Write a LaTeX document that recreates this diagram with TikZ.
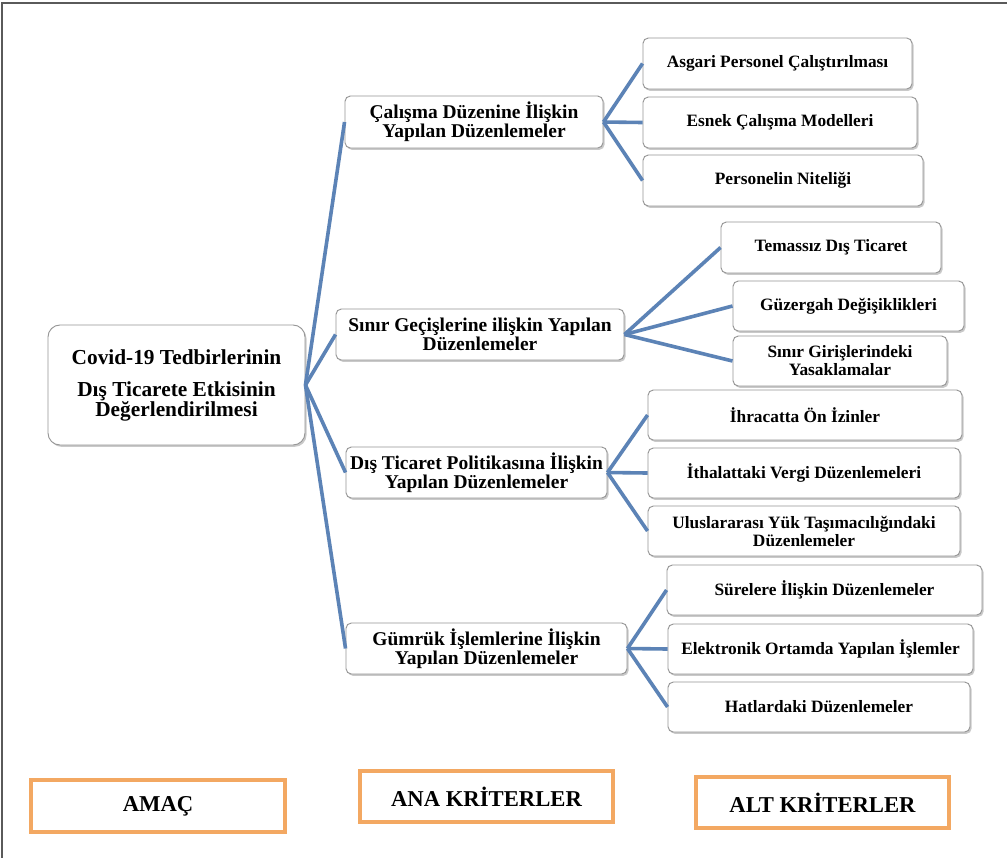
\documentclass[tikz,border=0pt]{standalone}
\usepackage{fontspec}
\setmainfont{Liberation Serif}
\usetikzlibrary{shadows}
\definecolor{linkblue}{RGB}{92,131,182}
\definecolor{boxgray}{RGB}{150,150,150}
\definecolor{legorange}{RGB}{243,168,98}
\definecolor{framegray}{RGB}{90,90,90}
\tikzset{
  basebox/.style={draw=boxgray, line width=0.7pt, fill=white, inner sep=0pt, align=center,
    drop shadow={shadow xshift=1.2pt, shadow yshift=-1.4pt, opacity=0.35, fill=black!60}},
  rootbox/.style={basebox, rounded corners=9pt, font=\bfseries\fontsize{16}{15}\selectfont},
  mainbox/.style={basebox, rounded corners=4pt, font=\bfseries\fontsize{14.6}{14.25}\selectfont},
  subbox/.style={basebox, rounded corners=4pt, font=\bfseries\fontsize{13}{13.5}\selectfont},
  legbox/.style={draw=legorange, line width=3pt, fill=white, inner sep=0pt, align=center,
    font=\bfseries\fontsize{17}{18}\selectfont},
  link/.style={draw=linkblue, line width=2.7pt},
}
\newcommand\mybox[7]{%
  \node[#1, minimum width={(#5-#3)*0.75pt}, minimum height={(#6-#4)*0.75pt}] (#2) at ({(#3+#5)/2},{(#4+#6)/2}) {#7};}
\begin{document}
\begin{tikzpicture}[x=0.75pt,y=-0.75pt]
\useasboundingbox (0,0) rectangle (1007,858);
\fill[white] (0,0) rectangle (1007,858);
\coordinate (ftl) at (2,3);
\coordinate (ftr) at (1007,3);
\coordinate (fbl) at (2,858);
\draw[framegray, line width=1.2pt] (ftr) -- (ftl) -- (fbl);

% root
\mybox{rootbox}{root}{48}{325}{305}{445}{Covid-19 Tedbirlerinin\\[9pt]Dış Ticarete Etkisinin\\Değerlendirilmesi}

% main criteria
\mybox{mainbox}{m1}{345}{96}{603}{148}{Çalışma Düzenine İlişkin\\Yapılan Düzenlemeler}
\mybox{mainbox}{m2}{336}{309}{624}{360}{Sınır Geçişlerine ilişkin Yapılan\\Düzenlemeler}
\mybox{mainbox}{m3}{346}{447}{607}{498}{Dış Ticaret Politikasına İlişkin\\Yapılan Düzenlemeler}
\mybox{mainbox}{m4}{346}{623}{627}{674}{Gümrük İşlemlerine İlişkin\\Yapılan Düzenlemeler}

% sub criteria
\mybox{subbox}{a1}{643}{38}{912}{89}{Asgari Personel Çalıştırılması}
\mybox{subbox}{a2}{643}{97}{917}{148}{Esnek Çalışma Modelleri}
\mybox{subbox}{a3}{643}{155}{923}{206}{Personelin Niteliği}

\mybox{subbox}{b1}{721}{222}{941}{273}{Temassız Dış Ticaret}
\mybox{subbox}{b2}{733}{281}{964}{331}{Güzergah Değişiklikleri}
\mybox{subbox}{b3}{733}{336}{947}{386}{Sınır Girişlerindeki\\Yasaklamalar}

\mybox{subbox}{c1}{648}{390}{962}{440}{İhracatta Ön İzinler}
\mybox{subbox}{c2}{648}{448}{960}{498}{İthalattaki Vergi Düzenlemeleri}
\mybox{subbox}{c3}{648}{506}{960}{556}{Uluslararası Yük Taşımacılığındaki\\Düzenlemeler}

\mybox{subbox}{d1}{667}{565}{982}{615}{Sürelere İlişkin Düzenlemeler}
\mybox{subbox}{d2}{668}{624}{973}{674}{Elektronik Ortamda Yapılan İşlemler}
\mybox{subbox}{d3}{668}{682}{970}{732}{Hatlardaki Düzenlemeler}

% legend
\mybox{legbox}{amac}{31}{780}{285}{832}{AMAÇ}
\mybox{legbox}{ana}{360}{771}{613}{822}{ANA KRİTERLER}
\mybox{legbox}{alt}{696}{777}{949}{828}{ALT KRİTERLER}

% connectors
\foreach \m in {m1,m2,m3,m4} \draw[link] (root.east) -- (\m.west);
\foreach \s in {a1,a2,a3} \draw[link] (m1.east) -- (\s.west);
\foreach \s in {b1,b2,b3} \draw[link] (m2.east) -- (\s.west);
\foreach \s in {c1,c2,c3} \draw[link] (m3.east) -- (\s.west);
\foreach \s in {d1,d2,d3} \draw[link] (m4.east) -- (\s.west);
\end{tikzpicture}
\end{document}
